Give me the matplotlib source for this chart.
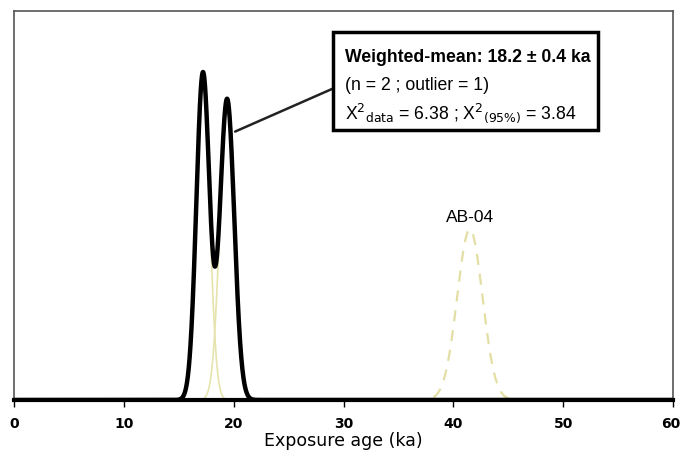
import numpy as np
import matplotlib.pyplot as plt
import matplotlib.transforms as mtransforms

# sample ages (ka) and 1-sigma errors
ages = [17.2, 19.4]
errors = [0.6, 0.652]
outlier_name = "AB-04"
outlier_age = 41.5
outlier_err = 1.15

x_ticks = [0, 10, 20, 30, 40, 50, 60]

x = np.linspace(0, 60, 3000)


def pdf(m, s):
    return np.exp(-0.5 * ((x - m) / s) ** 2) / (s * np.sqrt(2 * np.pi))


fig = plt.figure(figsize=(6.81, 4.55), dpi=100)
ax = fig.add_axes([0.0206, 0.1209, 0.9677, 0.8549])

total = np.zeros_like(x)
for m, s in zip(ages, errors):
    g = pdf(m, s)
    total += g
    ax.plot(x, g, color='#e6e3ac', lw=1.2, zorder=2)

out = pdf(outlier_age, outlier_err)
ax.plot(x, out, color='#e3dfa4', lw=1.6, ls=(0, (5, 4)), zorder=2)
ax.text(outlier_age, out.max() * 1.025, outlier_name, ha='center', va='bottom',
        fontsize=12.5, family='Liberation Sans')

ax.plot(x, total, color='black', lw=3.2, zorder=3, solid_capstyle='round')

ax.set_xlim(0, 60)
ax.set_ylim(0, total.max() * 1.186)
ax.set_yticks([])
ax.set_xticks(x_ticks)
ax.set_xticklabels([str(t) for t in x_ticks], fontweight='bold', fontsize=10)
ax.tick_params(axis='x', length=5, width=1, direction='out', pad=7)
ax.set_xlabel('Exposure age (ka)', fontsize=12.5, labelpad=1)
last = ax.get_xticklabels()[-1]
last.set_transform(last.get_transform() +
                   mtransforms.ScaledTranslation(-2 / 100, 0, fig.dpi_scale_trans))

for side in ['left', 'top', 'right']:
    ax.spines[side].set_color('#555555')
    ax.spines[side].set_linewidth(1.2)
ax.spines['bottom'].set_linewidth(3)
ax.spines['bottom'].set_zorder(4)

# results box with connector line
ax.annotate('', xy=(19.9, total.max() * 0.815), xytext=(29.2, total.max() * 0.952),
            arrowprops=dict(arrowstyle='-', color='#222222', lw=1.8), zorder=5)
rect = plt.Rectangle((333 / 681, 1 - 130 / 455), (598 - 333) / 681, 98 / 455,
                     transform=fig.transFigure, fill=True, facecolor='white',
                     edgecolor='black', lw=2.5, zorder=0)
fig.patches.append(rect)
tx = 345 / 681
fig.text(tx, 1 - 58 / 455, 'Weighted-mean: 18.2 \u00b1 0.4 ka', fontsize=12.7,
         fontweight='bold', family='Liberation Sans', va='center')
fig.text(tx, 1 - 86 / 455, '(n = 2 ; outlier = 1)', fontsize=12.7,
         family='Liberation Sans', va='center')
fig.text(tx, 1 - 113 / 455,
         'X$^2$$_{\\rm data}$ = 6.38 ; X$^2$$_{\\rm (95\\%)}$ = 3.84',
         fontsize=12.7, family='Liberation Sans', va='center')

fig.savefig('out.png', dpi=100)
